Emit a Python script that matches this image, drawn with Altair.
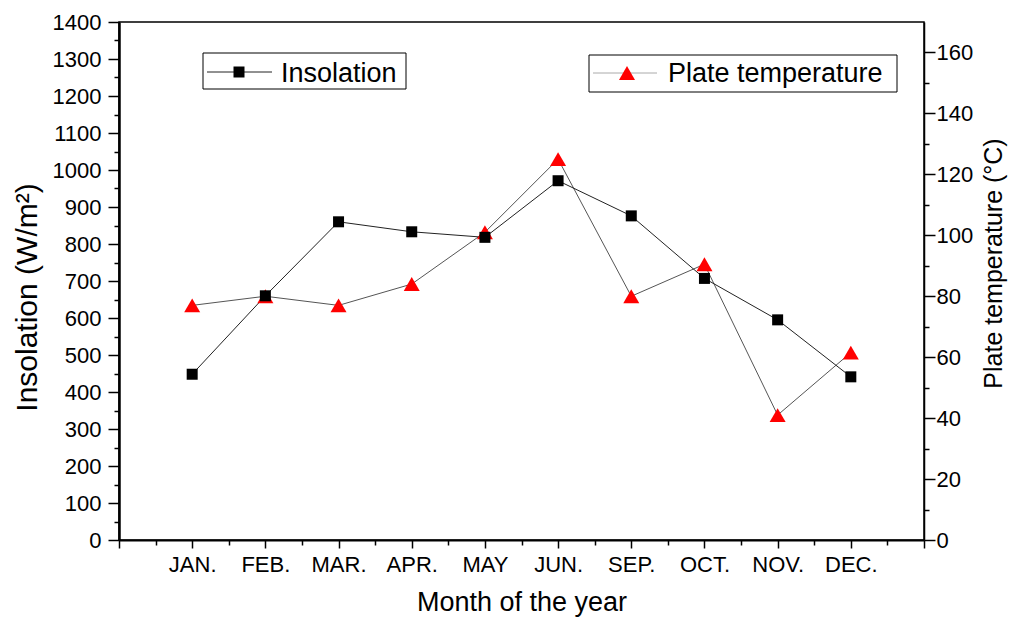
import altair as alt
import pandas as pd

# ---- data ----
months = ["JAN.", "FEB.", "MAR.", "APR.", "MAY", "JUN.", "SEP.", "OCT.", "NOV.", "DEC."]
insolation = [448, 660, 860, 833, 818, 971, 876, 707, 595, 441]
plate_temp = [77, 80, 77, 84, 101, 125, 80, 90.5, 41, 61.5]

df = pd.DataFrame({
    "pos": list(range(1, len(months) + 1)),
    "month": months,
    "insolation": insolation,
    "temp": plate_temp,
})

FONT = "Liberation Sans"
W, H = 805, 518

label_expr = ("datum.value >= 1 && datum.value <= %d ? [%s][datum.value - 1] : ''"
              % (len(months), ",".join("'%s'" % m for m in months)))

xs = alt.Scale(domain=[0, len(months) + 1], nice=False, zero=False)
ys_l = alt.Scale(domain=[0, 1400], nice=False, zero=True)
ys_r = alt.Scale(domain=[0, 170], nice=False, zero=True)

common = dict(grid=False, tickColor="black", domainColor="black",
              labelColor="black", titleColor="black", labelFont=FONT,
              titleFont=FONT, titleFontWeight="normal")

x_major = alt.Axis(values=list(range(0, len(months) + 2)), labelExpr=label_expr,
                   tickSize=8, tickWidth=1.5, domainWidth=2, labelFontSize=22,
                   labelPadding=6, labelFlush=False, labelOverlap=False,
                   title="Month of the year", titleFontSize=27, titlePadding=14,
                   orient="bottom", **common)
x_minor = alt.Axis(values=[i + 0.5 for i in range(len(months) + 1)], labels=False,
                   domain=False, tickSize=5, tickWidth=1.5, title=None,
                   orient="bottom", **common)

y_left_major = alt.Axis(values=list(range(0, 1401, 100)), orient="left", tickSize=11,
                        tickWidth=1.5, domainWidth=2.5, labelFontSize=22, labelPadding=7,
                        labelFlush=False, format="d", title="Insolation (W/m²)",
                        titleFontSize=30, titlePadding=10, titleY=275, **common)
y_left_minor = alt.Axis(values=list(range(50, 1400, 100)), orient="left", labels=False,
                        domain=False, tickSize=5, tickWidth=1.5, title=None, **common)
y_right_major = alt.Axis(values=list(range(0, 161, 20)), orient="right", tickSize=11,
                         tickWidth=1.5, domainWidth=1.5, labelFontSize=22, labelPadding=1,
                         labelFlush=False, format="d", title="Plate temperature (°C)",
                         titleFontSize=25, titleAngle=270, titleBaseline="top",
                         titlePadding=9, titleY=241, **common)
y_right_minor = alt.Axis(values=list(range(10, 160, 20)), orient="right", labels=False,
                         domain=False, tickSize=5, tickWidth=1.5, title=None, **common)

base = alt.Chart(df)

temp_line = base.mark_line(color="#555555", strokeWidth=1).encode(
    x=alt.X("pos:Q", scale=xs, axis=None),
    y=alt.Y("temp:Q", scale=ys_r, axis=y_right_major))
temp_minor = base.mark_point(opacity=0).encode(
    x=alt.X("pos:Q", scale=xs, axis=None),
    y=alt.Y("temp:Q", scale=ys_r, axis=y_right_minor))
ins_line = base.mark_line(color="#222222", strokeWidth=1).encode(
    x=alt.X("pos:Q", scale=xs, axis=x_major),
    y=alt.Y("insolation:Q", scale=ys_l, axis=y_left_major))
ins_minor = base.mark_point(opacity=0).encode(
    x=alt.X("pos:Q", scale=xs, axis=x_minor),
    y=alt.Y("insolation:Q", scale=ys_l, axis=y_left_minor))
temp_pts = base.mark_point(shape="triangle-up", filled=True, size=256, color="#ff0000",
                           opacity=1).encode(
    x=alt.X("pos:Q", scale=xs, axis=None),
    y=alt.Y("temp:Q", scale=ys_r, axis=None))
ins_pts = base.mark_point(shape="square", filled=True, size=121, color="black",
                          opacity=1).encode(
    x=alt.X("pos:Q", scale=xs, axis=None),
    y=alt.Y("insolation:Q", scale=ys_l, axis=None))

# ---- boxed legends ----
leg = alt.Chart(pd.DataFrame({"k": [0]}))
box1 = leg.mark_rect(fill="white", stroke="black", strokeWidth=1).encode(
    x=alt.value(84), x2=alt.value(287), y=alt.value(31), y2=alt.value(67))
seg1 = leg.mark_rule(color="#222222", strokeWidth=1).encode(
    x=alt.value(88), x2=alt.value(153), y=alt.value(50))
sym1 = leg.mark_point(shape="square", filled=True, size=121, color="black", opacity=1).encode(
    x=alt.value(120), y=alt.value(50))
txt1 = leg.mark_text(text="Insolation", font=FONT, fontSize=27, align="left",
                     baseline="alphabetic", color="black").encode(
    x=alt.value(162), y=alt.value(60))

box2 = leg.mark_rect(fill="white", stroke="black", strokeWidth=1).encode(
    x=alt.value(470), x2=alt.value(778), y=alt.value(33), y2=alt.value(70))
seg2 = leg.mark_rule(color="#aaaaaa", strokeWidth=1).encode(
    x=alt.value(474), x2=alt.value(538), y=alt.value(51))
sym2 = leg.mark_point(shape="triangle-up", filled=True, size=256, color="#ff0000",
                      opacity=1).encode(x=alt.value(508), y=alt.value(51))
txt2 = leg.mark_text(text="Plate temperature", font=FONT, fontSize=27, align="left",
                     baseline="alphabetic", color="black").encode(
    x=alt.value(549), y=alt.value(60))

chart = alt.layer(
    temp_line, temp_minor, ins_line, ins_minor, temp_pts, ins_pts,
    box1, seg1, sym1, txt1, box2, seg2, sym2, txt2,
).resolve_scale(y="independent").resolve_axis(x="independent", y="independent").properties(
    width=W, height=H,
    autosize=alt.AutoSizeParams(type="none"),
    padding={"left": 111, "top": 14, "right": 87, "bottom": 77},
).configure_view(stroke="black", strokeWidth=1.5)

chart.save("out.html", embed_options={"renderer": "svg", "actions": False})
